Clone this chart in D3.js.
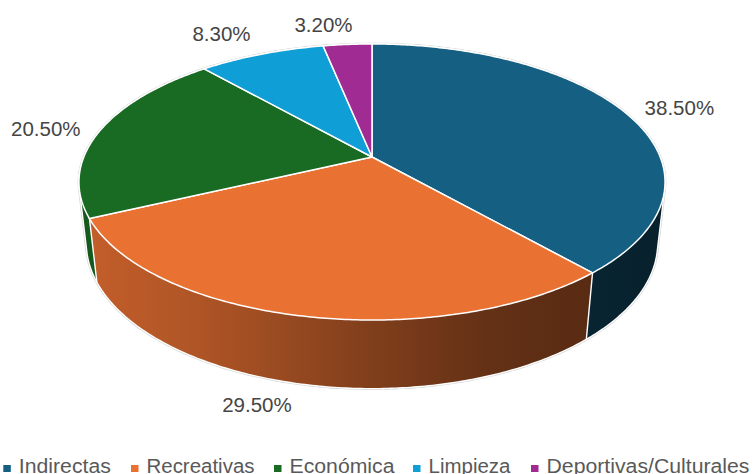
<!DOCTYPE html>
<html>
<head>
<meta charset="utf-8">
<style>
html,body{margin:0;padding:0;background:#fff;overflow:hidden}
svg{display:block}
text{font-family:"Liberation Sans",Arial,sans-serif}
</style>
<script src="https://cdn.jsdelivr.net/npm/d3@7/dist/d3.min.js"></script>
</head>
<body>
<svg id="chart" width="753" height="474"></svg>
<script>
const categories = ["Indirectas", "Recreativas", "Económica", "Limpieza", "Deportivas/Culturales"];
const shares = [38.5, 29.5, 20.5, 8.3, 3.2];
const colors = ["#156082", "#E97132", "#196B24", "#0F9ED5", "#A02B93"];

// Label displacement from the rim point at each slice's middle angle
const labelNudges = [[54, -5], [-44, 89], [-54, -2], [-40, -20], [-24, -20]];
const legendMarkers = [3.3, 131, 274, 413, 531];
const legendTextWidths = [92, 108, 105, 82, 203];

const width = 753, height = 474;
const cx = 372, cy = 157;
const radiusX = 288.2, radiusY = 133.5;
const tilt = 0.181;        // perspective strength of the pie disc
const wallDrop = 62;       // height of the wall
const wallRecede = 0.025;  // the lower rim sits a little further from the viewer

// Perspective projection of a point on the unit disc, at the top or bottom rim
function project(angle, r = 1, lower = false) {
  const u = r * Math.sin(angle), v = r * Math.cos(angle);
  const w = 1 + tilt * v + (lower ? wallRecede : 0);
  return [cx + radiusX * u / w, cy + (-radiusY * v + (lower ? wallDrop : 0)) / w];
}

const arcs = d3.pie().sort(null).value(d => d)(shares);
const svg = d3.select("#chart");
const line = d3.line();

function rim(a0, a1, lower) {
  const n = Math.max(4, Math.ceil((a1 - a0) * 90));
  return d3.range(n + 1).map(i => project(a0 + (a1 - a0) * i / n, 1, lower));
}

// A slice's wall is the convex outline of its upper and lower rims
function wallOutline(a0, a1) {
  return line(d3.polygonHull(rim(a0, a1, false).concat(rim(a0, a1, true)))) + "Z";
}

// Shading runs from left to right across the wall
const defs = svg.append("defs");
const shade = d3.scaleLinear()
  .domain([79, 200, 320, 380, 500, 590, 665])
  .range([0.84, 0.75, 0.61, 0.54, 0.42, 0.38, 0.34]);
const stops = d3.range(0, 1.0001, 0.05);
const xAt = d3.scaleLinear().domain([0, 1]).range([79, 665]);

arcs.forEach((a, i) => {
  const g = defs.append("linearGradient")
    .attr("id", "wall" + i)
    .attr("gradientUnits", "userSpaceOnUse")
    .attr("x1", xAt(0)).attr("x2", xAt(1)).attr("y1", 0).attr("y2", 0);
  stops.forEach(t => {
    const c = d3.rgb(colors[i]);
    const f = shade(xAt(t));
    g.append("stop").attr("offset", t)
      .attr("stop-color", d3.rgb(c.r * f, c.g * f, c.b * f).formatHex());
  });
});

// Faint halo around the whole drum
svg.append("path")
  .attr("d", wallOutline(0, 2 * Math.PI))
  .attr("fill", "none")
  .attr("stroke", "#d4d4d4")
  .attr("stroke-width", 2.6)
  .attr("stroke-linejoin", "round");

// Walls first, back slices before front ones; the disc covers whatever is hidden
const wallOrder = [3, 4, 2, 0, 1];
svg.append("g").selectAll("path")
  .data(wallOrder.map(i => arcs[i]))
  .join("path")
  .attr("d", d => wallOutline(d.startAngle, d.endAngle))
  .attr("fill", d => `url(#wall${d.index})`)
  .attr("stroke", "#fff")
  .attr("stroke-width", 1.4)
  .attr("stroke-linejoin", "round");

// Top of the disc
svg.append("g").selectAll("path")
  .data(arcs)
  .join("path")
  .attr("d", d => line([[cx, cy]].concat(rim(d.startAngle, d.endAngle, false))) + "Z")
  .attr("fill", (d, i) => colors[i])
  .attr("stroke", "#fff")
  .attr("stroke-width", 1.5)
  .attr("stroke-linejoin", "round");

// Percentage labels
svg.append("g").selectAll("text")
  .data(arcs)
  .join("text")
  .attr("transform", (d, i) => {
    const p = project((d.startAngle + d.endAngle) / 2);
    return `translate(${p[0] + labelNudges[i][0]},${p[1] + labelNudges[i][1]})`;
  })
  .attr("text-anchor", "middle")
  .attr("dy", "0.35em")
  .attr("font-size", 20.5)
  .attr("fill", "#454545")
  .text(d => d.value.toFixed(2) + "%");

// Legend along the bottom edge
const legend = svg.append("g").selectAll("g")
  .data(categories)
  .join("g")
  .attr("transform", (d, i) => `translate(${legendMarkers[i]},0)`);
legend.append("rect")
  .attr("y", 465).attr("width", 7.5).attr("height", 7)
  .attr("fill", (d, i) => colors[i]);
legend.append("text")
  .attr("x", 15.5).attr("y", 473)
  .attr("font-size", 20)
  .attr("fill", "#595959")
  .attr("textLength", (d, i) => legendTextWidths[i])
  .attr("lengthAdjust", "spacingAndGlyphs")
  .text(d => d);
</script>
</body>
</html>
